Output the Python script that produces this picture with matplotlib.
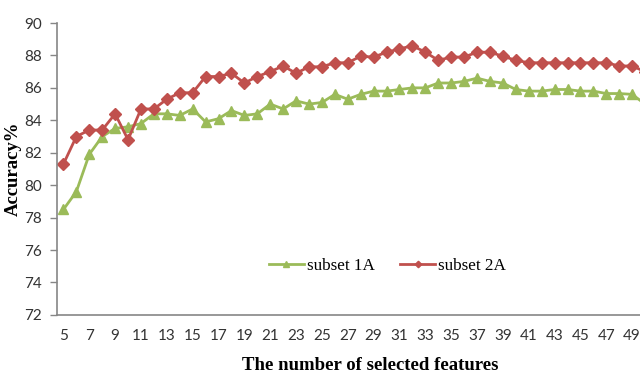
import matplotlib
matplotlib.use("Agg")
import matplotlib.pyplot as plt

# number of selected features
n_features = list(range(5, 51))

subset_1a = [78.5, 79.6, 81.9, 83.0, 83.5, 83.6, 83.8, 84.4, 84.4, 84.3,
             84.7, 83.9, 84.1, 84.6, 84.3, 84.4, 85.0, 84.7, 85.2, 85.0,
             85.1, 85.6, 85.3, 85.6, 85.8, 85.8, 85.9, 86.0, 86.0, 86.3,
             86.3, 86.4, 86.6, 86.4, 86.3, 85.9, 85.8, 85.8, 85.9, 85.9,
             85.8, 85.8, 85.65, 85.65, 85.6, 85.0]

subset_2a = [81.3, 83.0, 83.4, 83.4, 84.4, 82.8, 84.7, 84.7, 85.3, 85.7,
             85.7, 86.7, 86.7, 86.9, 86.3, 86.7, 87.0, 87.35, 86.9, 87.3,
             87.3, 87.55, 87.55, 87.95, 87.9, 88.2, 88.4, 88.6, 88.2, 87.7,
             87.9, 87.9, 88.2, 88.2, 87.95, 87.7, 87.55, 87.55, 87.55, 87.55,
             87.55, 87.55, 87.55, 87.35, 87.35, 87.0]

x_ticks = list(range(5, 50, 2))
y_ticks = list(range(72, 91, 2))

green = "#9BBB59"
red = "#C0504D"
axis_grey = "#868686"

fig = plt.figure(figsize=(6.4, 3.74), dpi=100)
ax = fig.add_axes([0.089, 0.158, 0.929, 0.7805])

ax.plot(n_features, subset_1a, color=green, marker="^", markersize=7.5,
        linewidth=2.0, label="subset 1A")
ax.plot(n_features, subset_2a, color=red, marker="D", markersize=6,
        linewidth=2.0, label="subset 2A")

ax.set_xlim(4.5, 50.5)
ax.set_ylim(72, 90)
ax.set_xticks(x_ticks)
ax.set_yticks(y_ticks)

tick_font = {"family": "Lato", "size": 11}
ax.set_xticklabels([str(v) for v in x_ticks], fontdict=tick_font)
ax.set_yticklabels([str(v) for v in y_ticks], fontdict=tick_font)
ax.tick_params(axis="x", length=0, pad=10, colors="#333333")
ax.tick_params(axis="y", length=5, width=1, color=axis_grey, pad=6,
               labelcolor="#333333")

for side in ("top", "right"):
    ax.spines[side].set_visible(False)
for side in ("left", "bottom"):
    ax.spines[side].set_color(axis_grey)
    ax.spines[side].set_linewidth(1.2)

fig.text(0.578, 0.022, "The number of selected features", ha="center",
         va="center", family="Liberation Serif", weight="bold", size=13.5)
fig.text(0.021, 0.55, "Accuracy%", ha="center", va="center", rotation=90,
         family="Liberation Serif", weight="bold", size=13.5)

fig.legend(loc="center", bbox_to_anchor=(0.605, 0.29), ncol=2,
           frameon=False, handlelength=2.05, columnspacing=1.5,
           handletextpad=0.15, markerscale=0.55,
           prop={"family": "Liberation Serif", "size": 12.3})

fig.savefig("out.png", dpi=100)
